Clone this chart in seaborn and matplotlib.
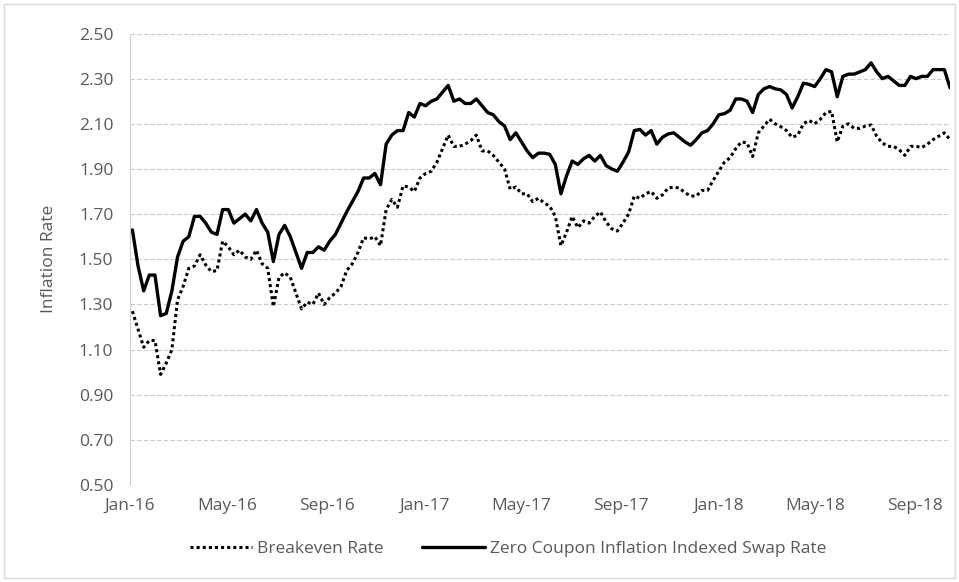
import pandas as pd
import matplotlib.pyplot as plt
import matplotlib.dates as mdates
from matplotlib.patches import Rectangle
import seaborn as sns

# weekly readings, first week of Jan 2016 to mid Oct 2018
start_date = "2016-01-04"

breakeven = [
    1.27, 1.19, 1.11, 1.14, 1.14, 0.99, 1.04, 1.10, 1.32, 1.38,
    1.46, 1.47, 1.52, 1.475, 1.445, 1.45, 1.58, 1.555, 1.52, 1.54,
    1.51, 1.50, 1.54, 1.48, 1.46, 1.29, 1.42, 1.44, 1.42, 1.35,
    1.28, 1.31, 1.30, 1.35, 1.30, 1.33, 1.35, 1.38, 1.45, 1.48,
    1.53, 1.595, 1.59, 1.60, 1.56, 1.72, 1.765, 1.73, 1.825, 1.82,
    1.80, 1.86, 1.88, 1.89, 1.93, 1.99, 2.05, 2.00, 2.00, 2.01,
    2.025, 2.05, 1.98, 1.98, 1.96, 1.93, 1.90, 1.81, 1.82, 1.79,
    1.79, 1.755, 1.77, 1.75, 1.735, 1.69, 1.56, 1.62, 1.69, 1.64,
    1.67, 1.66, 1.69, 1.71, 1.665, 1.635, 1.625, 1.66, 1.70, 1.78,
    1.77, 1.79, 1.80, 1.77, 1.785, 1.815, 1.82, 1.815, 1.795, 1.78,
    1.78, 1.805, 1.805, 1.85, 1.89, 1.93, 1.95, 1.99, 2.02, 2.015,
    1.955, 2.06, 2.09, 2.12, 2.10, 2.087, 2.07, 2.04, 2.05, 2.10,
    2.115, 2.10, 2.12, 2.15, 2.155, 2.02, 2.09, 2.10, 2.08, 2.08,
    2.09, 2.095, 2.045, 2.015, 2.00, 2.00, 1.985, 1.96, 2.00, 2.00,
    1.995, 2.01, 2.03, 2.045, 2.06, 2.03,
]

swap = [
    1.63, 1.47, 1.36, 1.43, 1.43, 1.25, 1.26, 1.36, 1.51, 1.58,
    1.60, 1.69, 1.69, 1.66, 1.62, 1.61, 1.72, 1.72, 1.66, 1.68,
    1.70, 1.67, 1.72, 1.66, 1.62, 1.49, 1.61, 1.65, 1.60, 1.53,
    1.46, 1.53, 1.53, 1.555, 1.54, 1.58, 1.61, 1.66, 1.71, 1.755,
    1.80, 1.86, 1.86, 1.88, 1.83, 2.01, 2.05, 2.07, 2.07, 2.15,
    2.13, 2.19, 2.18, 2.20, 2.21, 2.24, 2.27, 2.20, 2.21, 2.19,
    2.19, 2.21, 2.18, 2.15, 2.14, 2.11, 2.09, 2.03, 2.06, 2.02,
    1.98, 1.95, 1.97, 1.97, 1.965, 1.92, 1.79, 1.87, 1.935, 1.92,
    1.945, 1.96, 1.935, 1.96, 1.915, 1.90, 1.89, 1.93, 1.975, 2.07,
    2.075, 2.05, 2.07, 2.01, 2.04, 2.055, 2.06, 2.04, 2.02, 2.005,
    2.03, 2.06, 2.07, 2.10, 2.14, 2.145, 2.16, 2.21, 2.21, 2.20,
    2.15, 2.23, 2.255, 2.265, 2.255, 2.25, 2.23, 2.17, 2.22, 2.28,
    2.275, 2.265, 2.30, 2.34, 2.33, 2.22, 2.31, 2.32, 2.32, 2.33,
    2.34, 2.37, 2.33, 2.30, 2.31, 2.29, 2.27, 2.27, 2.31, 2.30,
    2.31, 2.31, 2.34, 2.34, 2.34, 2.26,
]

y_ticks = [0.50, 0.70, 0.90, 1.10, 1.30, 1.50, 1.70, 1.90, 2.10, 2.30, 2.50]
x_ticks = ["2016-01-01", "2016-05-01", "2016-09-01", "2017-01-01", "2017-05-01",
           "2017-09-01", "2018-01-01", "2018-05-01", "2018-09-01"]

dates = pd.date_range(start_date, periods=len(swap), freq="7D")
df = pd.DataFrame({"Date": dates, "Breakeven": breakeven, "Swap": swap})

sns.set_theme(style="white")
plt.rcParams["font.family"] = ["Open Sans", "DejaVu Sans"]
grey_text = "#595959"
fsize = 12.5

fig = plt.figure(figsize=(9.59, 5.82), dpi=100)
ax = fig.add_axes([130 / 959, 1 - 485 / 582, 820 / 959, 451.5 / 582])

# chart area border
fig.patches.append(Rectangle((4 / 959, 4 / 582), 951 / 959, 574 / 582, transform=fig.transFigure,
                             fill=False, edgecolor="#d9d9d9", linewidth=1.0))

sns.lineplot(x="Date", y="Breakeven", data=df, ax=ax, color="black", linewidth=2.2,
             linestyle=(0, (1, 1)), label="Breakeven Rate")
sns.lineplot(x="Date", y="Swap", data=df, ax=ax, color="black", linewidth=2.4,
             label="Zero Coupon Inflation Indexed Swap Rate")
ax.lines[0].set_dash_capstyle("butt")

ax.set_ylim(0.50, 2.50)
ax.set_xlim(pd.Timestamp("2016-01-01"), dates[-1])
ax.set_yticks(y_ticks)
ax.set_yticklabels([f"{v:.2f}" for v in y_ticks])
ax.set_xticks(pd.to_datetime(x_ticks))
ax.xaxis.set_major_formatter(mdates.DateFormatter("%b-%y"))
ax.tick_params(axis="both", length=0, labelsize=fsize, labelcolor=grey_text)
ax.tick_params(axis="x", pad=9)
ax.tick_params(axis="y", pad=12)

ax.grid(axis="y", color="#cccccc", linestyle=(0, (4, 2)), linewidth=0.8)
ax.set_axisbelow(True)
for side in ["top", "right", "bottom"]:
    ax.spines[side].set_visible(False)
ax.spines["left"].set_color("#d0d0d0")
ax.spines["left"].set_linestyle((0, (1, 1)))
ax.spines["left"].set_linewidth(0.8)

ax.set_xlabel("")
ax.set_ylabel("Inflation Rate", fontsize=fsize, color=grey_text, labelpad=16)

ax.legend_.remove()
handles, labels = ax.get_legend_handles_labels()
leg = fig.legend(handles, labels, loc="center", bbox_to_anchor=(508 / 959, 1 - 549 / 582),
                 ncol=2, frameon=False, fontsize=fsize, handlelength=3.6, columnspacing=2.2,
                 handletextpad=0.3)
for t in leg.get_texts():
    t.set_color(grey_text)

fig.savefig("out.png", dpi=100)
